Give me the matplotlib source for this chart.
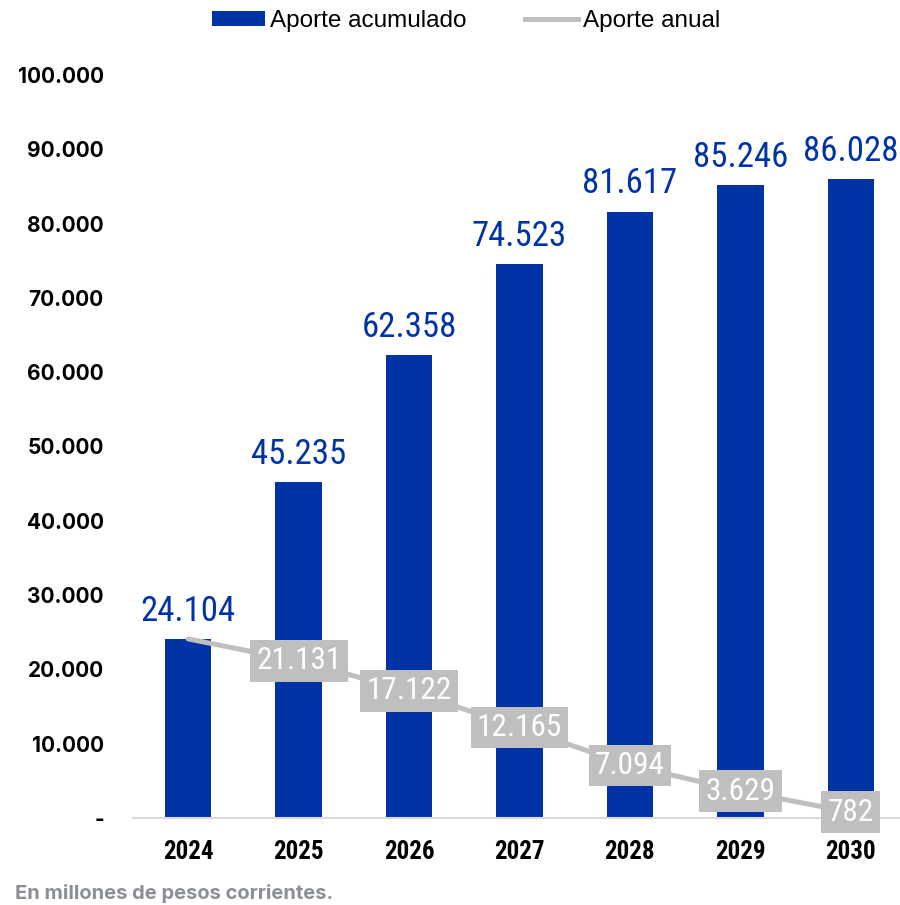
import matplotlib
matplotlib.use("Agg")
import matplotlib.pyplot as plt
from matplotlib import font_manager
from matplotlib.lines import Line2D
from matplotlib.patches import Patch

years = ['2024', '2025', '2026', '2027', '2028', '2029', '2030']
acumulado = [24104, 45235, 62358, 74523, 81617, 85246, 86028]
anual = [24104, 21131, 17122, 12165, 7094, 3629, 782]
yticks = [0, 10000, 20000, 30000, 40000, 50000, 60000, 70000, 80000, 90000, 100000]
ytick_labels = ['-', '10.000', '20.000', '30.000', '40.000', '50.000',
                '60.000', '70.000', '80.000', '90.000', '100.000']

BLUE = '#0033a6'
GREY = '#bfbfbf'

installed = {f.name for f in font_manager.fontManager.ttflist}


def pick(*names):
    for n in names:
        if n in installed:
            return n
    return 'DejaVu Sans'


narrow = pick('Roboto Condensed', 'Archivo Narrow', 'Liberation Sans Narrow', 'Roboto')


def fmt(v):
    return f'{v:,}'.replace(',', '.')


fig = plt.figure(figsize=(9, 9.05), dpi=100)
ax = fig.add_axes([133 / 900, 1 - 818 / 905, (906 - 133) / 900, (818 - 75) / 905])

x = list(range(len(years)))
ax.bar(x, acumulado, width=0.42, color=BLUE, zorder=2)
ax.plot(x, anual, color=GREY, lw=3.6, solid_capstyle='round', zorder=3)

for i, v in enumerate(acumulado):
    ax.annotate(fmt(v), (i, v), xytext=(0, 8), textcoords='offset points',
                ha='center', va='bottom', color=BLUE, fontsize=25,
                family=[narrow, 'DejaVu Sans'], zorder=4)

for i, v in enumerate(anual):
    if i == 0:
        continue
    ax.text(i, v, fmt(v), ha='center', va='center', color='white', fontsize=22.5,
            family=[narrow, 'DejaVu Sans'], zorder=5,
            bbox=dict(boxstyle='square,pad=0.2', fc=GREY, ec='none'))

ax.set_xlim(-0.5, 6.5)
ax.set_ylim(0, 100000)
ax.set_yticks(yticks)
ax.set_yticklabels(ytick_labels, fontsize=15, fontweight='bold', family='Inter')
ax.set_xticks(x)
ax.set_xticklabels(years, fontsize=18, fontweight='bold', family=[narrow, 'DejaVu Sans'])
ax.tick_params(axis='y', length=0, pad=21)
ax.tick_params(axis='x', length=0, pad=16)
for s in ['top', 'right', 'left']:
    ax.spines[s].set_visible(False)
ax.spines['bottom'].set_color('#d9d9d9')
ax.spines['bottom'].set_linewidth(1.5)

handles = [Patch(facecolor=BLUE), Line2D([], [], color=GREY, lw=3.6)]
fig.legend(handles, ['Aporte acumulado', 'Aporte anual'], loc='center',
           bbox_to_anchor=(466 / 900, 1 - 21 / 905), ncol=2, frameon=False,
           prop={'family': 'Liberation Sans', 'size': 17.5}, handlelength=2.2,
           handleheight=0.55, handletextpad=0.2, columnspacing=2.4)

fig.text(15 / 900, 1 - 893 / 905, 'En millones de pesos corrientes.', color='#8c9096',
         fontsize=14.5, fontweight='bold', family='Inter', va='center')

fig.savefig('out.png', dpi=100)
